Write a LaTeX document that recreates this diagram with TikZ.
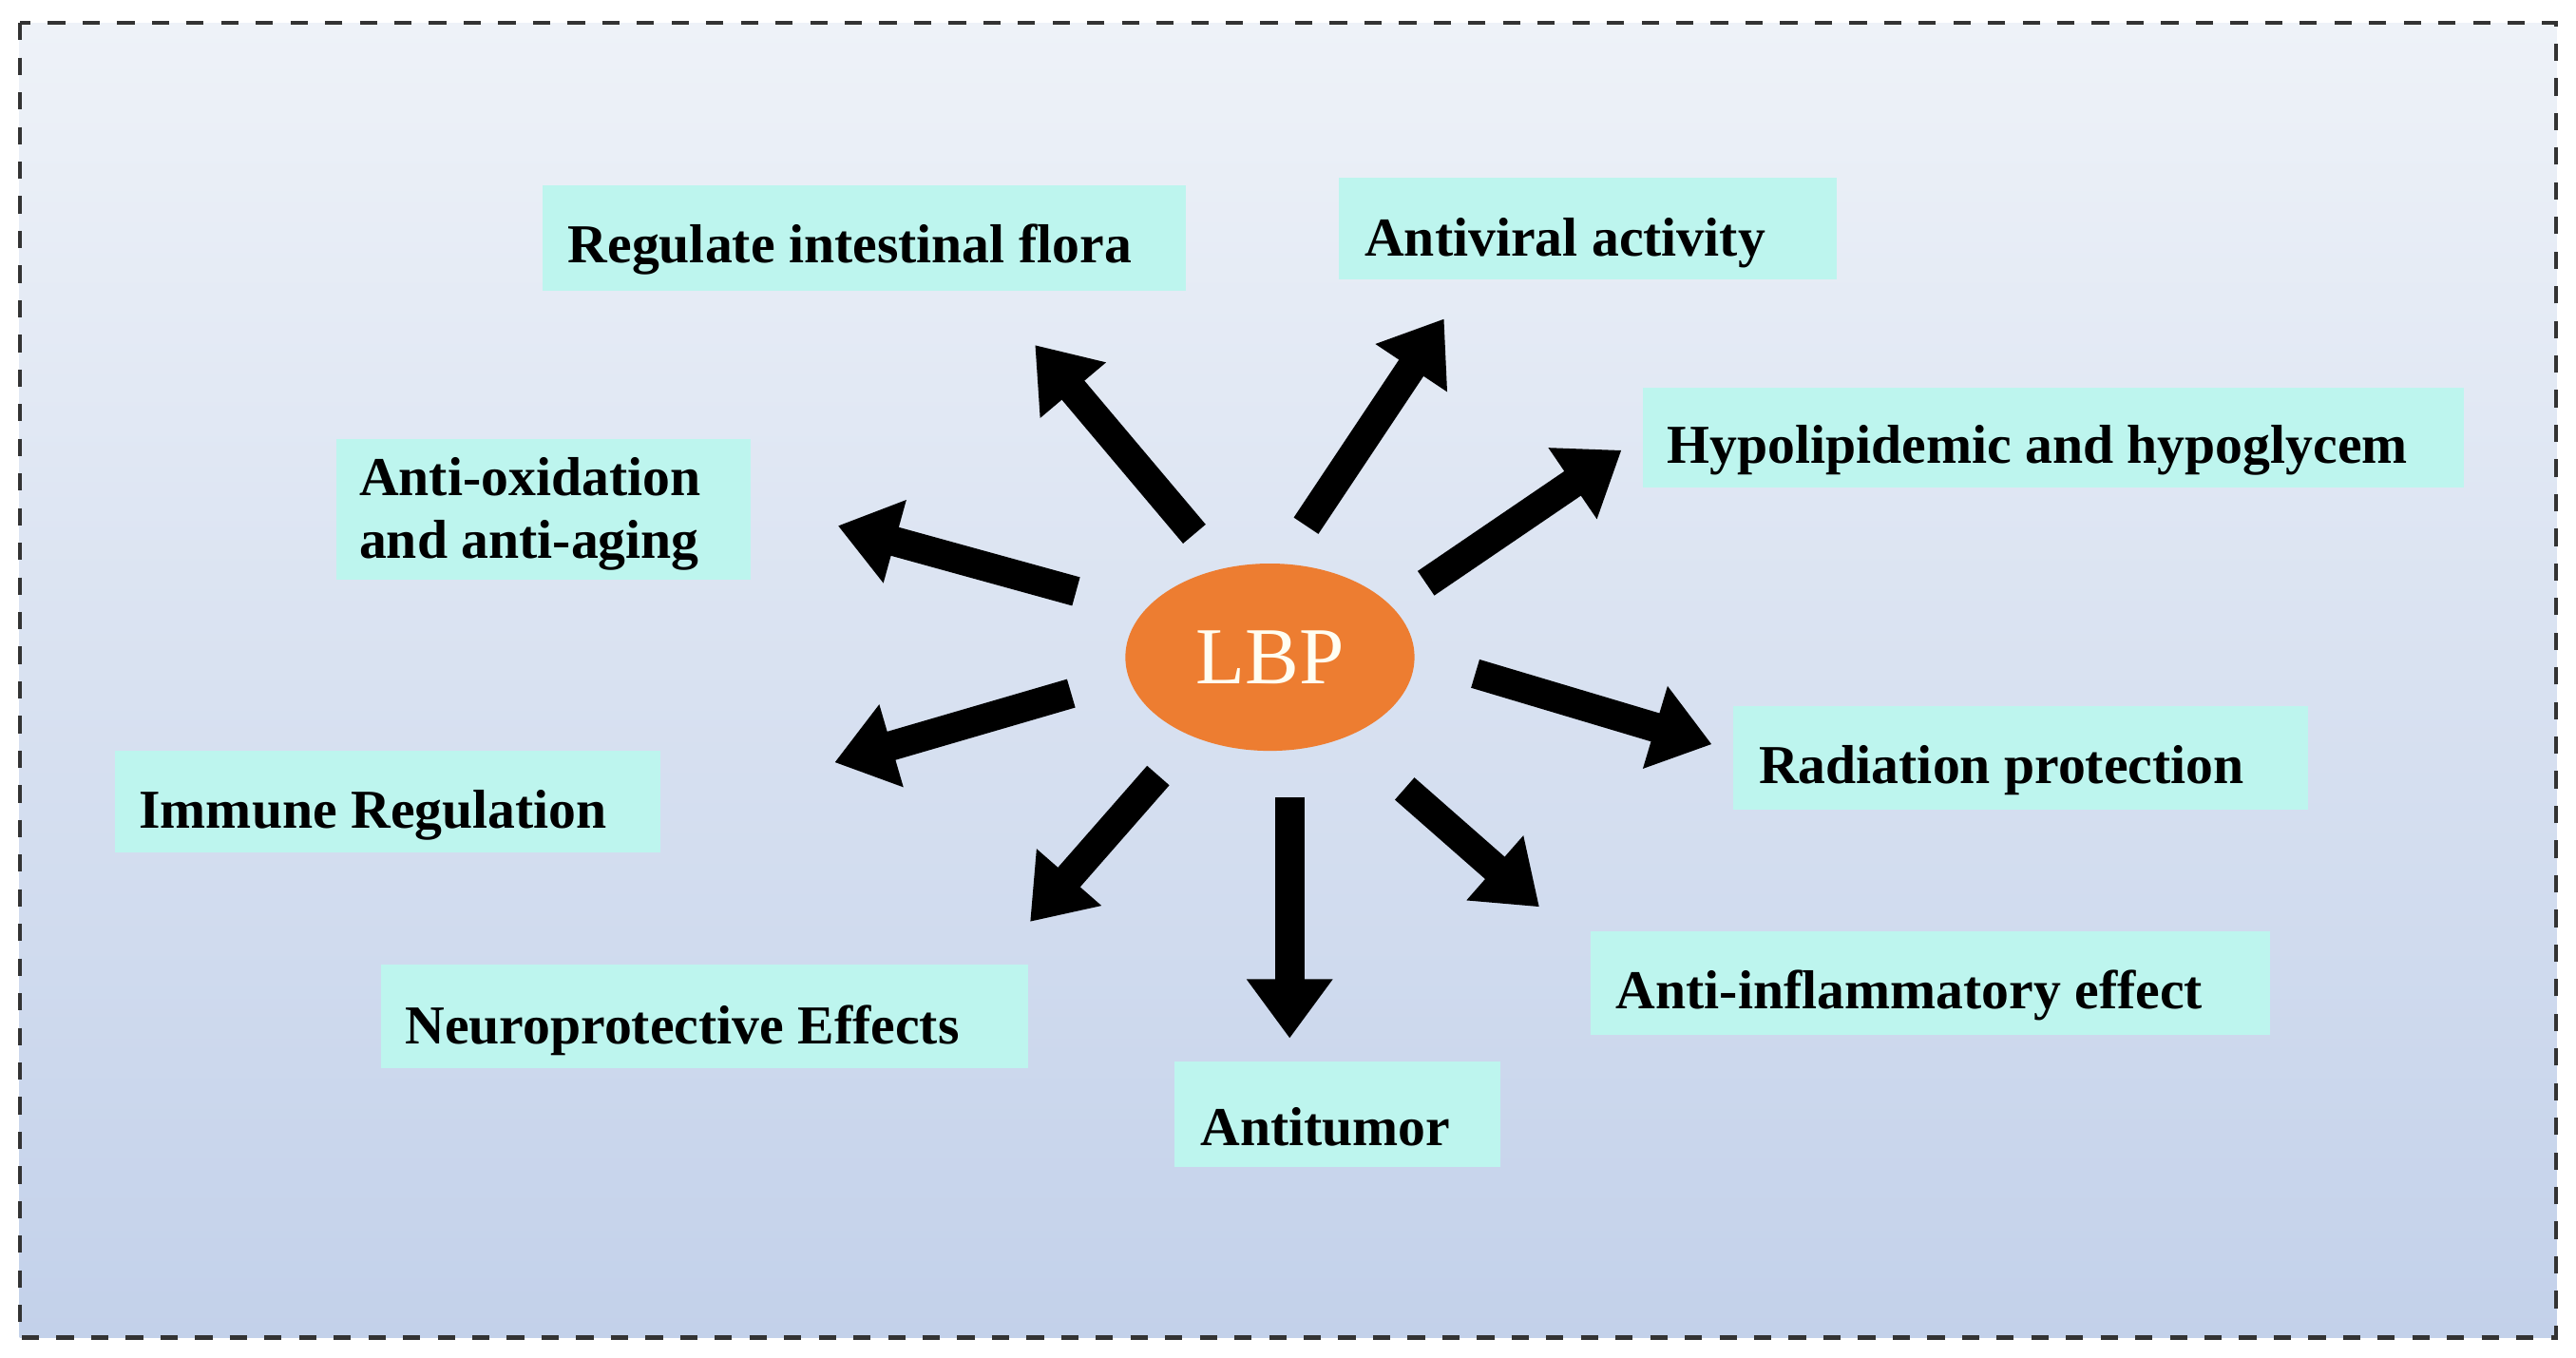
\documentclass[tikz,border=0pt]{standalone}
\usepackage{fontspec}
\setmainfont{Liberation Serif}
\usetikzlibrary{arrows.meta,shapes.geometric}
\definecolor{boxc}{HTML}{BDF5EE}
\definecolor{bgtop}{HTML}{EEF2F8}
\definecolor{bgbot}{HTML}{C3D1EA}
\definecolor{lbp}{HTML}{ED7D31}
\begin{document}
\begin{tikzpicture}[x=0.1mm,y=-0.1mm,
  lab/.style={font=\bfseries\fontsize{9.5}{10.8}\selectfont,anchor=west,align=left,inner sep=0pt},
  arr/.style={line width=1.8mm,-{Triangle[width=5mm,length=3.6mm]}}]
\useasboundingbox (0,0) rectangle (1568,826);
\shade[top color=bgtop,bottom color=bgbot] (12,14) rectangle (1556,814);
\draw[dashed,line width=0.25mm,black!80] (12,14) rectangle (1556,814);
% boxes
\fill[boxc] (330,113) rectangle (722,177);
\node[lab] (t1) at (345,152) {Regulate intestinal flora};
\fill[boxc] (815,108) rectangle (1118,170);
\node[lab] (t2) at (830,148) {Antiviral activity};
\fill[boxc] (1000,236) rectangle (1500,297);
\node[lab] (t3) at (1014,274) {Hypolipidemic and hypoglycem};
\fill[boxc] (205,267) rectangle (457,353);
\node[lab] (t4) at (218,313) {Anti-oxidation\\and anti-aging};
\fill[boxc] (70,457) rectangle (402,519);
\node[lab] (t5) at (84,496) {Immune Regulation};
\fill[boxc] (1055,430) rectangle (1405,493);
\node[lab] (t6) at (1070,469) {Radiation protection};
\fill[boxc] (232,587) rectangle (626,650);
\node[lab] (t7) at (246,627) {Neuroprotective Effects};
\fill[boxc] (968,567) rectangle (1382,630);
\node[lab] (t8) at (983,606) {Anti-inflammatory effect};
\fill[boxc] (715,646) rectangle (913,710);
\node[lab] (t9) at (730,686) {Antitumor};
% center
\node[ellipse,fill=lbp,inner sep=0pt,minimum width=17.6mm,minimum height=11.4mm,text=white!95!yellow,font=\fontsize{14}{16}\selectfont] (lbp) at (773,400) {LBP};
% arrow coordinates
\coordinate (a1) at (727,325); \coordinate (b1) at (630,210);
\coordinate (a2) at (795,320); \coordinate (b2) at (879,194);
\coordinate (a3) at (868,355); \coordinate (b3) at (987,274);
\coordinate (a4) at (655,360); \coordinate (b4) at (510,320);
\coordinate (a5) at (652,422); \coordinate (b5) at (508,464);
\coordinate (a6) at (898,410); \coordinate (b6) at (1042,453);
\coordinate (a7) at (705,472); \coordinate (b7) at (627,561);
\coordinate (a8) at (785,485); \coordinate (b8) at (785,632);
\coordinate (a9) at (855,480); \coordinate (b9) at (937,552);
\foreach \i in {1,...,9} \draw[arr] (a\i) -- (b\i);
\end{tikzpicture}
\end{document}
